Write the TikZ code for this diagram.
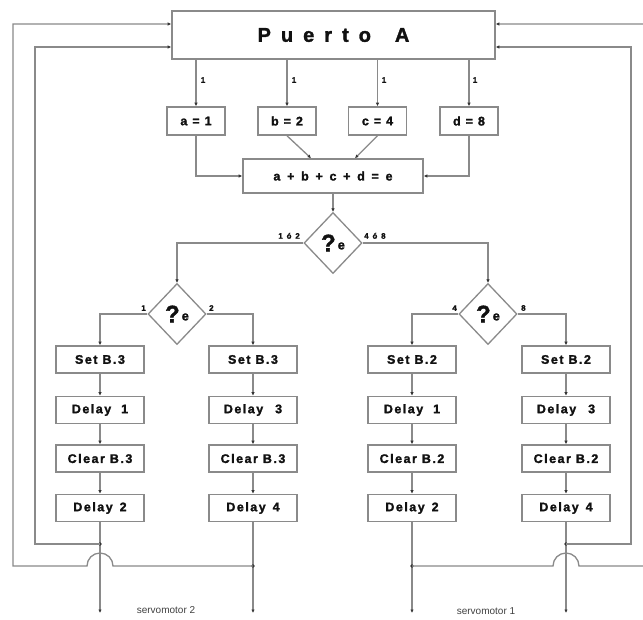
\documentclass[tikz,border=0pt]{standalone}
\usepackage{fontspec}
\setmainfont{Liberation Sans}
\newfontfamily\bxfont[LetterSpace=12, BoldFeatures={FakeBold=1.6}]{Liberation Sans}
\newfontfamily\efont[LetterSpace=26, BoldFeatures={FakeBold=1.6}]{Liberation Sans}
\newfontfamily\bigfont[LetterSpace=50, BoldFeatures={FakeBold=1.6}]{Liberation Sans}
\newfontfamily\lblfont[LetterSpace=20, BoldFeatures={FakeBold=1.2}]{Liberation Sans}
\usetikzlibrary{shapes.geometric,arrows.meta}
\definecolor{ln}{HTML}{8A8A8A}
\definecolor{tx}{HTML}{111111}
\definecolor{tip}{HTML}{333333}
\tikzset{
  box/.style={draw=ln, line width=1.6pt, fill=white, minimum height=27pt, inner sep=0pt, text=tx,
    font=\bxfont\bfseries\fontsize{12.5}{12.5}\selectfont},
  colbox/.style={box, minimum width=88pt},
  smallbox/.style={box, minimum width=58pt, minimum height=28pt},
  dia/.style={diamond, draw=ln, line width=1.3pt, fill=white, minimum width=58pt, minimum height=61pt,
    inner sep=0pt, text=tx, font=\bxfont\bfseries},
  conn/.style={draw=ln, line width=1.3pt},
  arr/.style={conn, -{Latex[length=3.5pt,width=3.5pt,color=tip]}},
  lbl/.style={text=tx, inner sep=0pt, font=\lblfont\bfseries\fontsize{8}{8}\selectfont},
  servo/.style={text=tx!80, inner sep=0pt, font=\fontsize{10}{10}\selectfont}
}
\newcommand{\qmark}{{\fontsize{24}{24}\selectfont ?}\hspace{2pt}\raisebox{2pt}{\fontsize{13}{13}\selectfont e}}
\begin{document}
\begin{tikzpicture}[x=1pt,y=-1pt]
\useasboundingbox (0,0) rectangle (643,619);
\fill[white] (0,0) rectangle (643,619);

% main boxes
\node[box, minimum width=323pt, minimum height=48pt,
  font=\bigfont\bfseries\fontsize{20}{20}\selectfont] (puerto) at (333.5,35) {Puerto\hspace{24pt}A};
\node[smallbox] (a) at (196,121) {a = 1};
\node[smallbox] (b) at (287,121) {b = 2};
\node[smallbox] (c) at (377.5,121) {c = 4};
\node[smallbox] (d) at (469,121) {d = 8};
\node[box, minimum width=180pt, minimum height=34pt,
  font=\efont\bfseries\fontsize{12.5}{12.5}\selectfont] (e) at (333,176) {a + b + c + d = e};

% decisions
\node[dia] (dm) at (333,243) {\qmark};
\node[dia] (dl) at (177,314) {\qmark};
\node[dia] (dr) at (488,314) {\qmark};

% columns
\node[colbox] (s1) at (100,359.5) {Set B.3};
\node[colbox] (t1) at (100,410) {Delay\hspace{5pt} 1};
\node[colbox] (c1) at (100,458.5) {Clear B.3};
\node[colbox] (u1) at (100,508) {Delay\hspace{2pt} 2};

\node[colbox] (s2) at (253,359.5) {Set B.3};
\node[colbox] (t2) at (253,410) {Delay\hspace{7pt} 3};
\node[colbox] (c2) at (253,458.5) {Clear B.3};
\node[colbox] (u2) at (253,508) {Delay\hspace{2pt} 4};

\node[colbox] (s3) at (412,359.5) {Set B.2};
\node[colbox] (t3) at (412,410) {Delay\hspace{5pt} 1};
\node[colbox] (c3) at (412,458.5) {Clear B.2};
\node[colbox] (u3) at (412,508) {Delay\hspace{2pt} 2};

\node[colbox] (s4) at (566,359.5) {Set B.2};
\node[colbox] (t4) at (566,410) {Delay\hspace{7pt} 3};
\node[colbox] (c4) at (566,458.5) {Clear B.2};
\node[colbox] (u4) at (566,508) {Delay\hspace{2pt} 4};

% Puerto -> a,b,c,d
\foreach \n in {a,b,c,d} {
  \draw[arr] (\n.north |- puerto.south) -- (\n.north);
}
\node[lbl] at (203,80) {1};
\node[lbl] at (294,80) {1};
\node[lbl] at (384,80) {1};
\node[lbl] at (475,80) {1};

% a,b,c,d -> e
\draw[arr] (a.south) |- (e.west);
\draw[arr] (d.south) |- (e.east);
\draw[arr] (b.south) -- ([xshift=-22pt]e.north);
\draw[arr] (c.south) -- ([xshift=22pt]e.north);

% e -> main decision
\draw[arr] (e.south) -- (dm.north);
\draw[arr] (dm.west) -| (dl.north);
\draw[arr] (dm.east) -| (dr.north);
\node[lbl, anchor=south east] at (300,239) {1 ó 2};
\node[lbl, anchor=south west] at (364,239) {4 ó 8};

% sub decisions
\draw[arr] (dl.west) -| (s1.north);
\draw[arr] (dl.east) -| (s2.north);
\draw[arr] (dr.west) -| (s3.north);
\draw[arr] (dr.east) -| (s4.north);
\node[lbl, anchor=south east] at (146,311) {1};
\node[lbl, anchor=south west] at (209,311) {2};
\node[lbl, anchor=south east] at (457,311) {4};
\node[lbl, anchor=south west] at (521,311) {8};

% column chains
\foreach \k in {1,2,3,4} {
  \draw[arr] (s\k.south) -- (t\k.north);
  \draw[arr] (t\k.south) -- (c\k.north);
  \draw[arr] (c\k.south) -- (u\k.north);
}

% bottom outputs
\coordinate (o1) at (100,613);
\coordinate (o2) at (253,613);
\coordinate (o3) at (412,613);
\coordinate (o4) at (566,613);
\foreach \k in {1,2,3,4} {
  \draw[arr] (u\k.south) -- (o\k);
}

% junctions
\coordinate (j1) at (100,544);
\coordinate (j2) at (253,566);
\coordinate (j3) at (412,566);
\coordinate (j4) at (566,544);
\foreach \k in {1,2,3,4} {
  \fill[tip] (j\k) circle[radius=1.8pt];
}

% inner loops
\draw[arr] (j1) -- (35,544) -- (35,47) -- (puerto.west |- 0,47);
\draw[arr] (j4) -- (631,544) -- (631,47) -- (puerto.east |- 0,47);

% outer loops with line jumps
\draw[arr] (j2) -- (113,566) arc[start angle=0, end angle=-180, radius=13] -- (13,566) -- (13,24) -- (puerto.west |- 0,24);
\draw[arr] (j3) -- (553,566) arc[start angle=180, end angle=360, radius=13] -- (648,566) -- (648,24) -- (puerto.east |- 0,24);

% output labels
\node[servo] at (166,610) {servomotor 2};
\node[servo] at (486,611) {servomotor 1};
\end{tikzpicture}
\end{document}
